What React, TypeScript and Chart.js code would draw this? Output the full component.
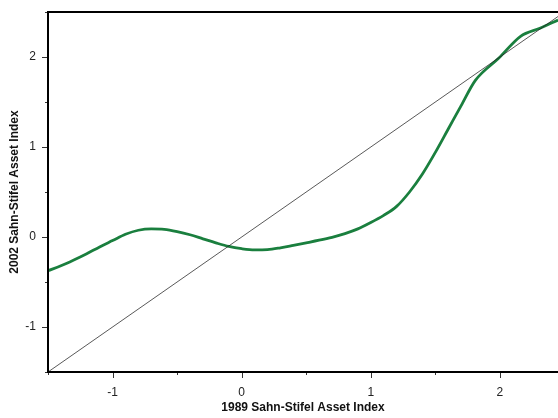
import React, { useEffect, useRef } from "react";
import { Chart, registerables } from "chart.js";

Chart.register(...registerables);

const curveX = [-1.5, -1.4, -1.3, -1.2, -1.1, -1.0, -0.9, -0.8, -0.7, -0.6, -0.5, -0.4, -0.3, -0.2, -0.1, 0.0, 0.1, 0.2, 0.3, 0.4, 0.5, 0.6, 0.7, 0.8, 0.9, 1.0, 1.1, 1.2, 1.3, 1.4, 1.5, 1.6, 1.7, 1.81, 1.99, 2.16, 2.31, 2.45];
const curveY = [-0.375, -0.32, -0.255, -0.185, -0.11, -0.04, 0.03, 0.075, 0.09, 0.085, 0.06, 0.025, -0.02, -0.065, -0.105, -0.13, -0.143, -0.14, -0.12, -0.093, -0.065, -0.036, -0.003, 0.038, 0.09, 0.16, 0.24, 0.34, 0.5, 0.7, 0.94, 1.2, 1.46, 1.74, 1.985, 2.23, 2.32, 2.41];
const diagX = [-1.5, 2.5];
const diagY = [-1.5, 2.5];

const xTitle = "1989 Sahn-Stifel Asset Index";
const yTitle = "2002 Sahn-Stifel Asset Index";
const xMin = -1.5;
const xMax = 2.45;
const yMin = -1.5;
const yMax = 2.5;
const tickStep = 0.5;

const FONT = "'Liberation Sans', Arial, sans-serif";

const framePlugin = {
  id: "frameTicks",
  afterDraw(chart: any) {
    const { ctx, chartArea } = chart;
    const xs = chart.scales.x;
    const ys = chart.scales.y;
    ctx.save();
    ctx.strokeStyle = "#333";
    ctx.lineWidth = 1;
    xs.ticks.forEach((t: any) => {
      const px = Math.round(xs.getPixelForValue(t.value)) + 0.5;
      const len = Number.isInteger(t.value) ? 6 : 3;
      ctx.beginPath();
      ctx.moveTo(px, chartArea.bottom);
      ctx.lineTo(px, chartArea.bottom + len);
      ctx.stroke();
    });
    ys.ticks.forEach((t: any) => {
      const py = Math.round(ys.getPixelForValue(t.value)) + 0.5;
      const len = Number.isInteger(t.value) ? 6 : 3;
      ctx.beginPath();
      ctx.moveTo(chartArea.left - len, py);
      ctx.lineTo(chartArea.left, py);
      ctx.stroke();
    });
    ctx.strokeStyle = "#000";
    ctx.lineWidth = 2;
    ctx.beginPath();
    ctx.moveTo(chartArea.right + 2, chartArea.top);
    ctx.lineTo(chartArea.left, chartArea.top);
    ctx.lineTo(chartArea.left, chartArea.bottom);
    ctx.lineTo(chartArea.right + 2, chartArea.bottom);
    ctx.stroke();
    ctx.restore();
  },
};

export default function App() {
  const ref = useRef<HTMLCanvasElement>(null);
  useEffect(() => {
    if (!ref.current) return;
    const chart = new Chart(ref.current, {
      type: "scatter",
      data: {
        datasets: [
          {
            label: "diag",
            data: diagX.map((x, i) => ({ x, y: diagY[i] })),
            showLine: true,
            borderColor: "#222",
            borderWidth: 0.75,
            pointRadius: 0,
            tension: 0,
          },
          {
            label: "curve",
            data: curveX.map((x, i) => ({ x, y: curveY[i] })),
            showLine: true,
            borderColor: "#1a7f3e",
            borderWidth: 2.8,
            pointRadius: 0,
            cubicInterpolationMode: "monotone",
          },
        ],
      },
      options: {
        animation: false,
        responsive: false,
        devicePixelRatio: 1,
        layout: { padding: { top: 12, right: 0, left: 0, bottom: 0 } },
        plugins: { legend: { display: false }, tooltip: { enabled: false } },
        scales: {
          x: {
            type: "linear",
            min: xMin,
            max: xMax,
            grid: { display: false, drawTicks: false },
            border: { display: false },
            ticks: {
              stepSize: tickStep,
              autoSkip: false,
              maxRotation: 0,
              padding: 13,
              color: "#222",
              font: { family: FONT, size: 12 },
              callback: (v: any) => (Number.isInteger(v) ? String(v) : ""),
            },
            title: {
              display: true,
              text: xTitle,
              color: "#111",
              font: { family: FONT, size: 12, weight: "bold" },
              padding: { top: 0, bottom: 3 },
            },
            afterFit: (s: any) => {
              s.height = 46;
              s.paddingLeft = 0;
              s.paddingRight = 0;
            },
          },
          y: {
            type: "linear",
            min: yMin,
            max: yMax,
            grid: { display: false, drawTicks: false },
            border: { display: false },
            ticks: {
              stepSize: tickStep,
              autoSkip: false,
              padding: 12,
              color: "#222",
              font: { family: FONT, size: 12 },
              callback: (v: any) => (Number.isInteger(v) ? String(v) : ""),
            },
            title: {
              display: true,
              text: yTitle,
              color: "#111",
              font: { family: FONT, size: 12, weight: "bold" },
              padding: { top: 7, bottom: 0 },
            },
            afterFit: (s: any) => {
              s.width = 48;
              s.paddingTop = 0;
              s.paddingBottom = 0;
            },
          },
        },
      },
      plugins: [framePlugin],
    });
    return () => chart.destroy();
  }, []);
  return (
    <div style={{ position: "absolute", left: 0, top: 0, width: 558, height: 418, background: "#fff" }}>
      <canvas ref={ref} width={558} height={418} />
    </div>
  );
}
